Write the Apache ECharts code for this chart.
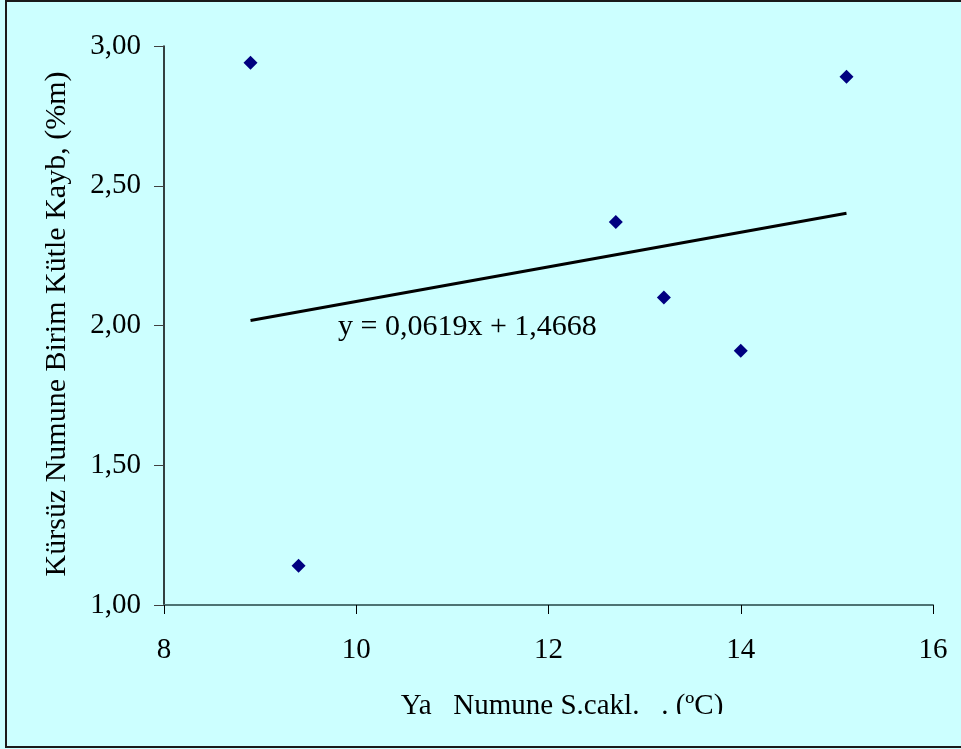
<!DOCTYPE html>
<html>
<head>
<meta charset="utf-8">
<script src="https://cdn.jsdelivr.net/npm/echarts@6/dist/echarts.min.js"></script>
<style>
html,body{margin:0;padding:0;background:#CCFFFF;}
#c{width:961px;height:749px;}
</style>
</head>
<body>
<div id="c"></div>
<script>
const xValues = [8.9, 9.4, 12.7, 13.2, 14.0, 15.1];
const yValues = [2.94, 1.14, 2.37, 2.10, 1.91, 2.89];
const trendSlope = 0.0619;
const trendIntercept = 1.4668;
const equationText = 'y = 0,0619x + 1,4668';
const xTicks = [8, 10, 12, 14, 16];
const yTicks = [1.0, 1.5, 2.0, 2.5, 3.0];
const xTitle = 'Ya   Numune S.cakl.   . (ºC)';
const yTitle = 'Kürsüz Numune Birim Kütle Kayb, (%m)';

const points = xValues.map((x, i) => [x, yValues[i]]);
const xMin = Math.min(...xValues), xMax = Math.max(...xValues);
const trend = [[xMin, trendSlope * xMin + trendIntercept], [xMax, trendSlope * xMax + trendIntercept]];

const chart = echarts.init(document.getElementById('c'));
const font = '"Liberation Serif", "Times New Roman", serif';
chart.setOption({
  backgroundColor: '#CCFFFF',
  animation: false,
  grid: {left: 164, right: 28, top: 46, bottom: 144},
  xAxis: {
    type: 'value', min: xTicks[0], max: xTicks[xTicks.length - 1], interval: xTicks[1] - xTicks[0],
    axisLine: {show: true, lineStyle: {color: '#4d7373', width: 2}},
    axisTick: {show: true, inside: false, length: 9, lineStyle: {color: '#000', width: 1}},
    axisLabel: {color: '#000', fontFamily: font, fontSize: 29, margin: 31,
      formatter: v => String(v)},
    splitLine: {show: false}
  },
  yAxis: {
    type: 'value', min: yTicks[0], max: yTicks[yTicks.length - 1], interval: yTicks[1] - yTicks[0],
    axisLine: {show: true, onZero: false, lineStyle: {color: '#000', width: 1.5}},
    axisTick: {show: true, length: 10, lineStyle: {color: '#404040', width: 1}},
    axisLabel: {color: '#000', fontFamily: font, fontSize: 29, margin: 23,
      formatter: v => v.toFixed(2).replace('.', ',')},
    splitLine: {show: false}
  },
  series: [
    {type: 'line', data: trend, symbol: 'none', lineStyle: {color: '#000', width: 3}, z: 2},
    {type: 'scatter', data: points, symbol: 'diamond', symbolSize: 14, itemStyle: {color: '#000080', opacity: 1}, z: 3}
  ],
  graphic: [
    {type: 'text', left: 338, top: 312, style: {text: equationText, font: '30px ' + font, fill: '#000'}},
    {type: 'text', x: 57, y: 324, rotation: Math.PI / 2,
      style: {text: yTitle, font: '30px ' + font, fill: '#000', align: 'center', verticalAlign: 'middle'}},
    {type: 'text', x: 562, y: 692, style: {text: xTitle, font: '29px ' + font, fill: '#000', align: 'center', verticalAlign: 'top'}},
    {type: 'rect', shape: {x: 8, y: 714, width: 960, height: 32}, style: {fill: '#CCFFFF'}, z: 10},
    {type: 'rect', shape: {x: 6, y: 1, width: 970, height: 746}, style: {fill: 'none', stroke: '#1a1a1a', lineWidth: 2}, z: 11}
  ]
});
</script>
</body>
</html>
